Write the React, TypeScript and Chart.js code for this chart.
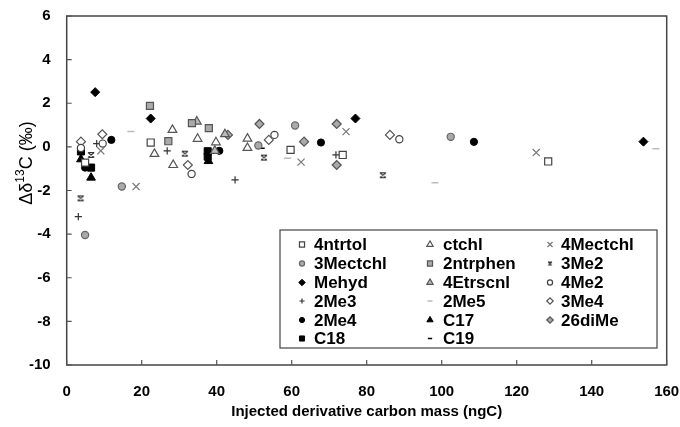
import React, { useEffect, useRef } from 'react';
import { Chart, registerables } from 'chart.js';
import { drawPoint } from 'chart.js/helpers';

Chart.register(...registerables);

const X_TICKS = [0, 20, 40, 60, 80, 100, 120, 140, 160];
const Y_TICKS = [-10, -8, -6, -4, -2, 0, 2, 4, 6];

const LEGEND_ORDER = [
  '4ntrtol', 'ctchl', '4Mectchl',
  '3Mectchl', '2ntrphen', '3Me2',
  'Mehyd', '4Etrscnl', '4Me2',
  '2Me3', '2Me5', '3Me4',
  '2Me4', 'C17', '26diMe',
  'C18', 'C19',
];

const d4ntrtol = [[4.9, -0.72], [22.4, 0.2], [59.7, -0.14], [73.6, -0.37], [128.4, -0.67]];
const dCtchl = [[23.4, -0.32], [28.2, 0.78], [28.4, -0.83], [34.9, 0.37], [39.8, 0.21], [48.2, 0.38], [48.2, -0.05]];
const d4Mectchl = [[9.1, -0.18], [18.5, -1.82], [62.5, -0.7], [74.5, 0.7], [125.2, -0.26]];
const d3Mectchl = [[4.9, -4.04], [14.7, -1.82], [51.1, 0.06], [60.9, 0.98], [102.4, 0.46]];
const d2ntrphen = [[22.2, 1.88], [27.1, 0.26], [33.4, 1.09], [37.9, 0.86]];
const d3Me2 = [[3.7, -2.36], [6.5, -0.37], [31.5, -0.31], [52.6, -0.49], [84.3, -1.3]];
const dMehyd = [[7.6, 2.51], [22.4, 1.3], [77.0, 1.3], [153.8, 0.24]];
const d4Etrscnl = [[34.7, 1.16], [39.5, -0.18], [42.2, 0.58]];
const d4Me2 = [[3.8, -0.05], [9.6, 0.15], [33.3, -1.24], [55.4, 0.55], [88.7, 0.35]];
const d2Me3 = [[3.1, -3.2], [8.0, 0.15], [26.8, -0.18], [44.9, -1.51], [71.8, -0.37]];
const d2Me5 = [[17.1, 0.7], [58.9, -0.52], [98.2, -1.64], [157.1, -0.09]];
const d3Me4 = [[3.8, 0.24], [9.5, 0.58], [32.3, -0.83], [53.9, 0.32], [86.2, 0.55]];
const d2Me4 = [[4.9, -0.95], [11.9, 0.32], [40.7, -0.18], [67.8, 0.2], [108.6, 0.23]];
const dC17 = [[3.8, -0.57], [6.5, -1.41], [37.8, -0.65]];
const d26diMe = [[43.0, 0.55], [51.4, 1.05], [63.3, 0.24], [72.0, 1.05], [72.0, -0.83]];
const dC18 = [[3.8, -0.21], [6.5, -0.95], [37.6, -0.2], [37.6, -0.45]];
const dC19 = [[52.0, -0.06]];

const SERIES_DATA: Record<string, number[][]> = {
  '4ntrtol': d4ntrtol, ctchl: dCtchl, '4Mectchl': d4Mectchl, '3Mectchl': d3Mectchl,
  '2ntrphen': d2ntrphen, '3Me2': d3Me2, Mehyd: dMehyd, '4Etrscnl': d4Etrscnl,
  '4Me2': d4Me2, '2Me3': d2Me3, '2Me5': d2Me5, '3Me4': d3Me4, '2Me4': d2Me4,
  C17: dC17, '26diMe': d26diMe, C18: dC18, C19: dC19,
};

const FONT = '"Liberation Sans", Arial, sans-serif';

type Sty = { ps: any; r: number; bg: string; bc: string; bw: number };

function makeHourglass(size: number): HTMLCanvasElement {
  const c = document.createElement('canvas');
  c.width = size; c.height = size;
  const g = c.getContext('2d')!;
  g.strokeStyle = '#333';
  g.lineWidth = 1.2;
  const a = 1, b = size - 1;
  g.beginPath();
  g.moveTo(a, a + 0.5); g.lineTo(b, b - 0.5);
  g.moveTo(b, a + 0.5); g.lineTo(a, b - 0.5);
  g.moveTo(a + 0.5, a + 0.5); g.lineTo(b - 0.5, a + 0.5);
  g.moveTo(a + 0.5, b - 0.5); g.lineTo(b - 0.5, b - 0.5);
  g.stroke();
  return c;
}

function styles(scale: number): Record<string, Sty> {
  const k = scale;
  return {
    '4ntrtol': { ps: 'rect', r: 5 * k, bg: '#ffffff', bc: '#444', bw: 1.2 },
    ctchl: { ps: 'triangle', r: 5 * k, bg: '#ffffff', bc: '#555', bw: 1.2 },
    '4Mectchl': { ps: 'crossRot', r: 5 * k, bg: '#777', bc: '#777', bw: 1.2 },
    '3Mectchl': { ps: 'circle', r: 3.6 * k, bg: '#aaaaaa', bc: '#666', bw: 1.2 },
    '2ntrphen': { ps: 'rect', r: 5 * k, bg: '#aaaaaa', bc: '#555', bw: 1.2 },
    '3Me2': { ps: makeHourglass(k < 1 ? 6 : 8), r: 4 * k, bg: '#333', bc: '#333', bw: 1 },
    Mehyd: { ps: 'rectRot', r: 4.5 * k, bg: '#000', bc: '#000', bw: 1 },
    '4Etrscnl': { ps: 'triangle', r: 5 * k, bg: '#bbbbbb', bc: '#555', bw: 1.2 },
    '4Me2': { ps: 'circle', r: 3.6 * k, bg: '#ffffff', bc: '#444', bw: 1.2 },
    '2Me3': { ps: 'cross', r: 3.6 * k, bg: '#333', bc: '#333', bw: 1.2 },
    '2Me5': { ps: 'line', r: 3.5 * k, bg: '#bbb', bc: '#bbb', bw: 1.5 },
    '3Me4': { ps: 'rectRot', r: 4.5 * k, bg: '#ffffff', bc: '#555', bw: 1.2 },
    '2Me4': { ps: 'circle', r: 3.6 * k, bg: '#000', bc: '#000', bw: 1 },
    C17: { ps: 'triangle', r: 5 * k, bg: '#000', bc: '#000', bw: 1 },
    '26diMe': { ps: 'rectRot', r: 4.5 * k, bg: '#aaaaaa', bc: '#555', bw: 1.2 },
    C18: { ps: 'rect', r: 5 * k, bg: '#000', bc: '#000', bw: 1 },
    C19: { ps: 'line', r: 3 * k, bg: '#000', bc: '#000', bw: 1.5 },
  };
}

export default function App() {
  const ref = useRef<HTMLCanvasElement | null>(null);

  useEffect(() => {
    document.body.style.margin = '0';
    const canvas = ref.current;
    if (!canvas) return;
    const st = styles(1);
    const lst = styles(0.72);

    const datasets = LEGEND_ORDER.map((name) => {
      const s = st[name];
      return {
        label: name,
        data: SERIES_DATA[name].map(([x, y]) => ({ x, y })),
        pointStyle: s.ps,
        pointRadius: s.r,
        pointBackgroundColor: s.bg,
        pointBorderColor: s.bc,
        pointBorderWidth: s.bw,
        showLine: false,
      };
    });

    const framePlugin = {
      id: 'frameTicks',
      beforeDatasetsDraw(chart: any) {
        const { ctx, chartArea: a, scales } = chart;
        ctx.save();
        ctx.strokeStyle = '#444';
        ctx.lineWidth = 1.5;
        ctx.strokeRect(a.left, a.top, a.right - a.left, a.bottom - a.top);
        ctx.lineWidth = 1.2;
        ctx.strokeStyle = '#555';
        ctx.beginPath();
        for (const v of X_TICKS) {
          const px = scales.x.getPixelForValue(v);
          ctx.moveTo(px, a.bottom);
          ctx.lineTo(px, a.bottom - 5);
        }
        for (const v of Y_TICKS) {
          const py = scales.y.getPixelForValue(v);
          ctx.moveTo(a.left, py);
          ctx.lineTo(a.left + 5, py);
        }
        ctx.stroke();
        ctx.restore();
      },
    };

    const legendPlugin = {
      id: 'boxLegend',
      afterDraw(chart: any) {
        const ctx = chart.ctx;
        const L = 280, T = 230, W = 377, H = 118;
        ctx.save();
        ctx.fillStyle = '#fff';
        ctx.fillRect(L, T, W, H);
        ctx.strokeStyle = '#444';
        ctx.lineWidth = 1.2;
        ctx.strokeRect(L, T, W, H);
        const markerX = [302, 430, 550];
        const textX = [314, 443, 561];
        const rowY = [244.5, 263.5, 282.5, 301, 320, 338.5];
        ctx.font = `bold 17px ${FONT}`;
        ctx.textBaseline = 'middle';
        ctx.textAlign = 'left';
        LEGEND_ORDER.forEach((name, i) => {
          const col = i % 3, row = Math.floor(i / 3);
          const s = lst[name];
          ctx.fillStyle = s.bg;
          ctx.strokeStyle = s.bc;
          ctx.lineWidth = s.bw;
          drawPoint(ctx, { pointStyle: s.ps, radius: s.r, rotation: 0, borderWidth: s.bw } as any, markerX[col], rowY[row]);
          ctx.fillStyle = '#000';
          ctx.fillText(name, textX[col], rowY[row] + 1);
        });
        ctx.restore();
      },
    };

    const yTitlePlugin = {
      id: 'yTitle',
      afterDraw(chart: any) {
        const ctx = chart.ctx;
        ctx.save();
        ctx.translate(27, 163);
        ctx.rotate(-Math.PI / 2);
        ctx.fillStyle = '#000';
        ctx.textBaseline = 'middle';
        ctx.textAlign = 'left';
        const big = `18px ${FONT}`;
        const small = `12px ${FONT}`;
        const parts: [string, string, number][] = [
          ['\u0394\u03b4', big, 0],
          ['13', small, -6],
          ['C (\u2030)', big, 0],
        ];
        let total = 0;
        for (const [t, f] of parts) { ctx.font = f; total += ctx.measureText(t).width; }
        let x = -total / 2;
        for (const [t, f, dy] of parts) {
          ctx.font = f;
          ctx.fillText(t, x, dy);
          x += ctx.measureText(t).width;
        }
        ctx.restore();
      },
    };

    const zeroPad = (s: any) => {
      s.paddingTop = 0; s.paddingBottom = 0; s.paddingLeft = 0; s.paddingRight = 0;
    };

    const chart = new Chart(canvas, {
      type: 'scatter',
      data: { datasets } as any,
      options: {
        animation: false,
        responsive: false,
        maintainAspectRatio: false,
        layout: { padding: { left: 0, top: 16, right: 13.3, bottom: 0 } },
        plugins: { legend: { display: false }, tooltip: { enabled: false } },
        scales: {
          x: {
            type: 'linear',
            min: 0,
            max: 160,
            grid: { display: false, drawTicks: false, tickLength: 0 },
            border: { display: false },
            afterBuildTicks: (s: any) => { s.ticks = X_TICKS.map((v) => ({ value: v })); },
            afterFit: (s: any) => { s.height = 62; zeroPad(s); },
            ticks: { color: '#000', padding: 18, maxRotation: 0, font: { family: FONT, size: 15, weight: 'bold' } },
            title: {
              display: true,
              text: 'Injected derivative carbon mass (ngC)',
              color: '#000',
              padding: { top: 0, bottom: 6 },
              font: { family: FONT, size: 15, weight: 'bold' },
            },
          },
          y: {
            type: 'linear',
            min: -10,
            max: 6,
            grid: { display: false, drawTicks: false, tickLength: 0 },
            border: { display: false },
            afterBuildTicks: (s: any) => { s.ticks = Y_TICKS.map((v) => ({ value: v })); },
            afterFit: (s: any) => { s.width = 66.7; zeroPad(s); },
            ticks: { color: '#000', padding: 16, font: { family: FONT, size: 15, weight: 'bold' } },
          },
        },
      } as any,
      plugins: [framePlugin, legendPlugin, yTitlePlugin],
    });

    return () => chart.destroy();
  }, []);

  return (
    <div style={{ width: 680, height: 427 }}>
      <canvas ref={ref} width={680} height={427} style={{ display: 'block' }} />
    </div>
  );
}
